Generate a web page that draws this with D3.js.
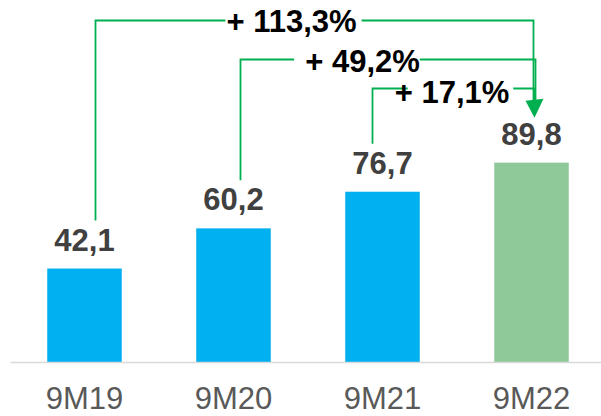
<!DOCTYPE html>
<html>
<head>
<meta charset="utf-8">
<script src="https://cdn.jsdelivr.net/npm/d3@7"></script>
<style>
    body { margin: 0; background: #fff; }
    #chart { width: 601px; height: 416px; }
    text { font-family: Arial, "Liberation Sans", sans-serif; }
</style>
</head>
<body>
<div id="chart"></div>
<script>
// Sample data
const categories = ["9M19", "9M20", "9M21", "9M22"];
const values = [42.1, 60.2, 76.7, 89.8];
const growthLabels = ["+ 113,3%", "+ 49,2%", "+ 17,1%"];

const blue = "#00B0F0";
const lightGreen = "#8FC899";
const lineGreen = "#00B050";

/**
 * Sets up the svg and the scales.
 */
function initializeChart() {
    const width = 601, height = 416;
    const svg = d3.select("#chart")
        .append("svg")
        .attr("width", width)
        .attr("height", height);
    const x = d3.scaleBand()
        .domain(categories)
        .range([10, 606])
        .paddingInner(0.5)
        .paddingOuter(0.25);
    const y = d3.scaleLinear()
        .domain([0, 100])
        .range([362, 140]);
    return { svg, x, y };
}

/**
 * Draws bars, value labels and the category axis.
 */
function drawBars(svg, x, y) {
    svg.selectAll("rect.bar")
        .data(values)
        .enter().append("rect")
        .attr("class", "bar")
        .attr("x", (d, i) => x(categories[i]))
        .attr("width", x.bandwidth())
        .attr("y", d => y(d))
        .attr("height", d => y(0) - y(d))
        .attr("fill", (d, i) => i === values.length - 1 ? lightGreen : blue);

    svg.selectAll("text.value")
        .data(values)
        .enter().append("text")
        .attr("class", "value")
        .attr("x", (d, i) => x(categories[i]) + x.bandwidth() / 2)
        .attr("y", d => y(d) - 18)
        .attr("text-anchor", "middle")
        .attr("font-size", 31)
        .attr("font-weight", "bold")
        .attr("fill", "#404040")
        .text(d => String(d.toFixed(1)).replace(".", ","));

    const axis = svg.append("g")
        .attr("transform", `translate(0,${y(0)})`)
        .call(d3.axisBottom(x).tickSize(0).tickPadding(25));
    axis.select(".domain")
        .attr("stroke", "#D9D9D9")
        .attr("stroke-width", 1.5);
    axis.selectAll("text")
        .attr("font-size", 31)
        .attr("fill", "#595959")
        .style("font-family", "Arial, 'Liberation Sans', sans-serif");
}

/**
 * Draws the growth brackets that run from each earlier bar to the last one.
 */
function drawGrowth(svg, x, y) {
    const last = values.length - 1;
    const targetX = x(categories[last]) + x.bandwidth() / 2;
    const tipY = y(values[last]) - 45;
    // hand placed like in the slide
    const startOffset = [11, 7, -10];
    const levelY = [20.5, 59.5, 88.5];
    const textY = [32, 71.5, 103];
    const textX = [291.5, 362.5, 452];
    const gapLeft = [1, 11, -13];
    const gapRight = [5, 0, 4];
    const arrowX = [2, 4, 3];

    growthLabels.forEach((label, i) => {
        const t = svg.append("text")
            .attr("x", textX[i])
            .attr("y", textY[i])
            .attr("text-anchor", "middle")
            .attr("font-size", 31)
            .attr("font-weight", "bold")
            .attr("fill", "#000")
            .text(label);
        const half = t.node().getComputedTextLength() / 2;
        const sx = x(categories[i]) + x.bandwidth() / 2 + startOffset[i];
        const sy = y(values[i]) - 48;
        const ax = targetX + arrowX[i];

        svg.insert("path", "text")
            .attr("d", `M${sx},${sy}V${levelY[i]}H${textX[i] - half - gapLeft[i]}` +
                `M${textX[i] + half + gapRight[i]},${levelY[i]}H${ax}V${tipY - 15}`)
            .attr("fill", "none")
            .attr("stroke", lineGreen)
            .attr("stroke-width", 1.8);
    });

    svg.append("path")
        .attr("d", `M${targetX - 6},${tipY - 17}L${targetX + 12},${tipY - 19}L${targetX + 3},${tipY}Z`)
        .attr("fill", lineGreen);
}

function addChart() {
    const { svg, x, y } = initializeChart();
    drawBars(svg, x, y);
    drawGrowth(svg, x, y);
}

addChart();
</script>
</body>
</html>
